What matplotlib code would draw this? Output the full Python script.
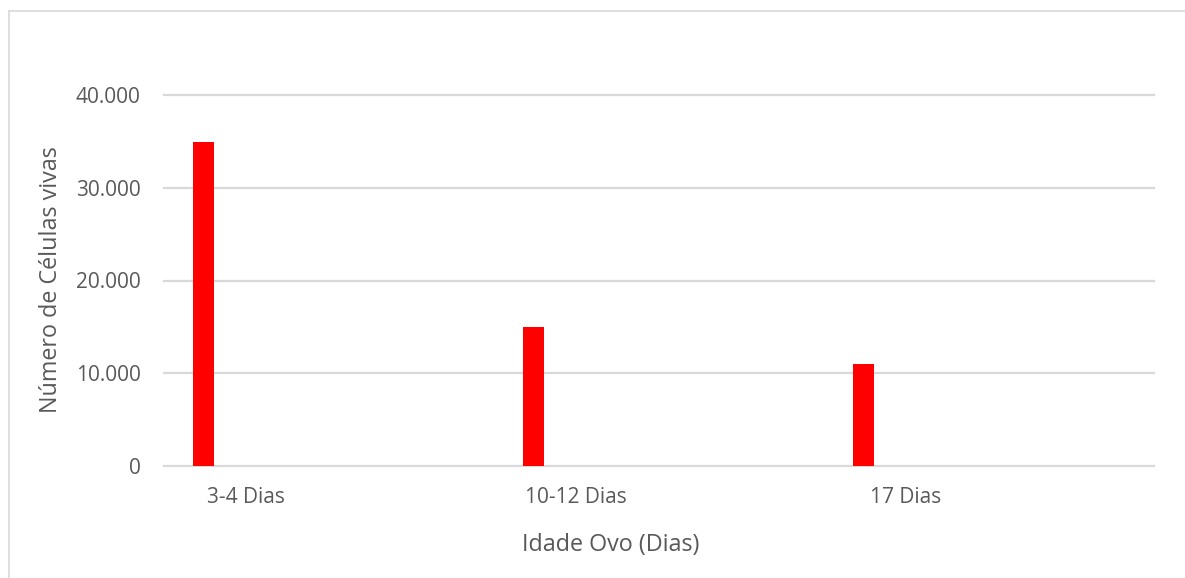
import matplotlib
matplotlib.use("Agg")
import matplotlib.pyplot as plt
from matplotlib.lines import Line2D

categories = ["3-4 Dias", "10-12 Dias", "17 Dias"]
values = [35000, 15000, 11000]
y_ticks = [0, 10000, 20000, 30000, 40000]
y_tick_labels = ["0", "10.000", "20.000", "30.000", "40.000"]

W, H = 1185, 578
plt.rcParams['font.family'] = ['Open Sans', 'DejaVu Sans']
fig = plt.figure(figsize=(W / 100, H / 100), dpi=100)
fig.patch.set_facecolor('white')

ax = fig.add_axes([164 / W, 1 - 465.7 / H, (1154 - 164) / W, (465.7 - 95.3) / H])
ax.set_xlim(0, 3)
ax.set_ylim(0, 40000)

gray_text = '#595959'
grid_col = '#d9d9d9'

for yt in y_ticks:
    ax.axhline(yt, color=grid_col, lw=1.6, zorder=1, clip_on=False)

xs = [i + 0.1206 for i in range(len(categories))]
ax.bar(xs, values, width=0.0636, color='#ff0000', zorder=3)

ax.set_yticks(y_ticks)
ax.set_yticklabels(y_tick_labels, color=gray_text, fontsize=15)
ax.set_xticks([i + 0.248 for i in range(len(categories))])
ax.set_xticklabels(categories, color=gray_text, fontsize=15)
ax.tick_params(axis='both', length=0)
ax.tick_params(axis='y', pad=16.8)
ax.tick_params(axis='x', pad=15)
for s in ax.spines.values():
    s.set_visible(False)

fig.text(51.5 / W, 1 - 280 / H, "Número de Células vivas", rotation=90,
         ha='center', va='center', color=gray_text, fontsize=16.8)
fig.text(611 / W, 1 - 545 / H, "Idade Ovo (Dias)", ha='center', va='center',
         color=gray_text, fontsize=16.8)

fig.add_artist(Line2D([9 / W, 1], [1 - 11 / H, 1 - 11 / H], color='#d9d9d9', lw=1.2,
                      transform=fig.transFigure))
fig.add_artist(Line2D([9 / W, 9 / W], [0, 1 - 11 / H], color='#d9d9d9', lw=1.2,
                      transform=fig.transFigure))

fig.savefig("out.png", dpi=100, facecolor='white')
